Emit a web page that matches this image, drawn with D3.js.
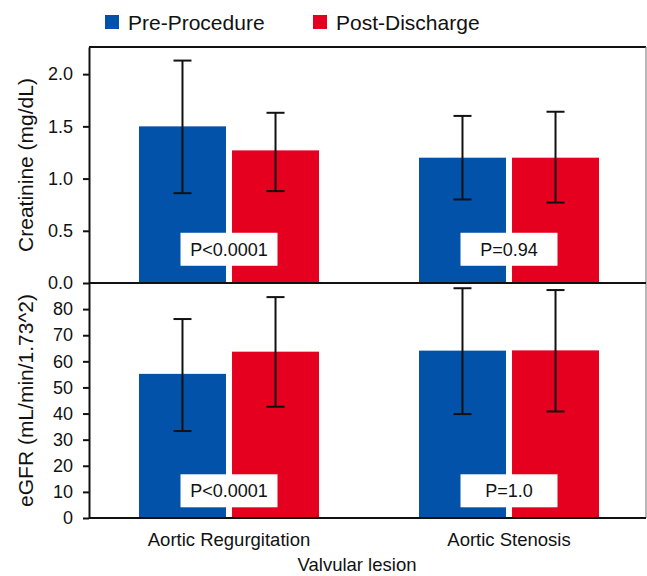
<!DOCTYPE html>
<html>
<head>
<meta charset="utf-8">
<script src="https://cdn.jsdelivr.net/npm/d3@7"></script>
<style>
  html, body { margin: 0; padding: 0; background: #fff; }
  svg { display: block; font-family: "Liberation Sans", Arial, sans-serif; }
</style>
</head>
<body>
<svg id="chart" width="647" height="576"></svg>
<script>
// ---- data ----
const categories = ["Aortic Regurgitation", "Aortic Stenosis"];
const seriesNames = ["Pre-Procedure", "Post-Discharge"];
const seriesColors = ["#0352AA", "#E5001F"];

const creatPre = [1.50, 1.20];
const creatPreLow = [0.86, 0.80];
const creatPreHigh = [2.13, 1.60];
const creatPost = [1.27, 1.20];
const creatPostLow = [0.88, 0.77];
const creatPostHigh = [1.63, 1.64];

const egfrPre = [55.2, 64.1];
const egfrPreLow = [33.3, 39.8];
const egfrPreHigh = [76.2, 88.0];
const egfrPost = [63.7, 64.2];
const egfrPostLow = [42.6, 40.8];
const egfrPostHigh = [84.6, 87.3];

const creatTicks = [0, 0.5, 1.0, 1.5, 2.0];
const egfrTicks = [0, 10, 20, 30, 40, 50, 60, 70, 80];
const creatP = ["P<0.0001", "P=0.94"];
const egfrP = ["P<0.0001", "P=1.0"];

const creatTitle = "Creatinine (mg/dL)";
const egfrTitle = "eGFR (mL/min/1.73^2)";
const xTitle = "Valvular lesion";

// ---- layout ----
const svg = d3.select("#chart");
const left = 89, right = 646;
const topY = 47, midY = 283, botY = 518;

const x = d3.scaleBand().domain(categories).range([left, left + 560]).padding(0);
const xi = d3.scaleBand().domain(seriesNames).range([-90, 90]).paddingInner(0.065).paddingOuter(0);

function buildRows(pre, preLo, preHi, post, postLo, postHi) {
  const rows = [];
  categories.forEach((c, i) => {
    rows.push({cat: c, s: seriesNames[0], v: pre[i], lo: preLo[i], hi: preHi[i], color: seriesColors[0]});
    rows.push({cat: c, s: seriesNames[1], v: post[i], lo: postLo[i], hi: postHi[i], color: seriesColors[1]});
  });
  return rows;
}

function panel(rows, y, ticks, fmt, pLabels, pBase, title) {
  const g = svg.append("g");
  const bw = xi.bandwidth();
  const cx = d => x(d.cat) + x.bandwidth() / 2 + xi(d.s);

  g.selectAll("rect.bar").data(rows).join("rect")
    .attr("class", "bar")
    .attr("x", cx)
    .attr("width", bw)
    .attr("y", d => y(d.v))
    .attr("height", d => y(0) - y(d.v))
    .attr("fill", d => d.color);

  // error bars
  const eb = g.selectAll("g.err").data(rows).join("g").attr("class", "err");
  const capW = 18;
  eb.append("line")
    .attr("x1", d => cx(d) + bw / 2).attr("x2", d => cx(d) + bw / 2)
    .attr("y1", d => y(d.lo)).attr("y2", d => y(d.hi))
    .attr("stroke", "#111").attr("stroke-width", 2);
  eb.append("line")
    .attr("x1", d => cx(d) + bw / 2 - capW / 2).attr("x2", d => cx(d) + bw / 2 + capW / 2)
    .attr("y1", d => y(d.hi)).attr("y2", d => y(d.hi))
    .attr("stroke", "#111").attr("stroke-width", 2);
  eb.append("line")
    .attr("x1", d => cx(d) + bw / 2 - capW / 2).attr("x2", d => cx(d) + bw / 2 + capW / 2)
    .attr("y1", d => y(d.lo)).attr("y2", d => y(d.lo))
    .attr("stroke", "#111").attr("stroke-width", 2);

  // p-value boxes
  const boxW = 97, boxH = 33;
  const pb = g.selectAll("g.p").data(categories).join("g").attr("class", "p");
  pb.append("rect")
    .attr("x", c => x(c) + x.bandwidth() / 2 - boxW / 2)
    .attr("y", y(pBase) - boxH)
    .attr("width", boxW).attr("height", boxH)
    .attr("fill", "#fff");
  pb.append("text")
    .attr("x", c => x(c) + x.bandwidth() / 2)
    .attr("y", y(pBase) - boxH / 2 + 6.5)
    .attr("text-anchor", "middle")
    .attr("font-size", 18)
    .attr("fill", "#111")
    .text((c, i) => pLabels[i]);

  // left axis
  const ax = d3.axisLeft(y).tickValues(ticks).tickFormat(fmt).tickSizeInner(6).tickSizeOuter(0).tickPadding(10);
  const ag = g.append("g").attr("transform", `translate(${left},0)`).call(ax);
  ag.select(".domain").attr("stroke", "#111").attr("stroke-width", 2);
  ag.selectAll(".tick line").attr("stroke", "#111").attr("stroke-width", 2);
  ag.selectAll(".tick text").attr("font-size", 18).attr("fill", "#111")
    .attr("font-family", "Liberation Sans, Arial, sans-serif");

  // title
  const [y0, y1] = y.range();
  g.append("text")
    .attr("transform", `translate(33,${(y0 + y1) / 2}) rotate(-90)`)
    .attr("text-anchor", "middle")
    .attr("font-size", 21)
    .attr("fill", "#111")
    .text(title);
}

const yC = d3.scaleLinear().domain([0, 2.26]).range([midY, topY]);
const yE = d3.scaleLinear().domain([0, 90]).range([botY, midY]);

panel(buildRows(creatPre, creatPreLow, creatPreHigh, creatPost, creatPostLow, creatPostHigh),
  yC, creatTicks, d3.format(".1f"), creatP, 0.165, creatTitle);
panel(buildRows(egfrPre, egfrPreLow, egfrPreHigh, egfrPost, egfrPostLow, egfrPostHigh),
  yE, egfrTicks, d3.format("d"), egfrP, 4.1, egfrTitle);

// frame lines
svg.append("line").attr("x1", left).attr("x2", right).attr("y1", topY).attr("y2", topY)
  .attr("stroke", "#111").attr("stroke-width", 1.8);
svg.append("line").attr("x1", right).attr("x2", right).attr("y1", topY).attr("y2", botY)
  .attr("stroke", "#888").attr("stroke-width", 1.2);
svg.append("line").attr("x1", left).attr("x2", right).attr("y1", midY).attr("y2", midY)
  .attr("stroke", "#111").attr("stroke-width", 2);
svg.append("line").attr("x1", left).attr("x2", right).attr("y1", botY).attr("y2", botY)
  .attr("stroke", "#111").attr("stroke-width", 2);

// category labels
svg.append("g").selectAll("text").data(categories).join("text")
  .attr("x", c => x(c) + x.bandwidth() / 2)
  .attr("y", 546)
  .attr("text-anchor", "middle")
  .attr("font-size", 18.5)
  .attr("fill", "#111")
  .text(c => c);

svg.append("text")
  .attr("x", 357).attr("y", 571)
  .attr("text-anchor", "middle")
  .attr("font-size", 18.5)
  .attr("fill", "#111")
  .text(xTitle);

// legend
const legX = [105, 313];
const lg = svg.append("g").selectAll("g").data(seriesNames).join("g")
  .attr("transform", (d, i) => `translate(${legX[i]},15)`);
lg.append("rect").attr("width", 14).attr("height", 14).attr("fill", (d, i) => seriesColors[i]);
lg.append("text").attr("x", 23).attr("y", 14.5).attr("font-size", 21).attr("fill", "#111").text(d => d);
</script>
</body>
</html>
